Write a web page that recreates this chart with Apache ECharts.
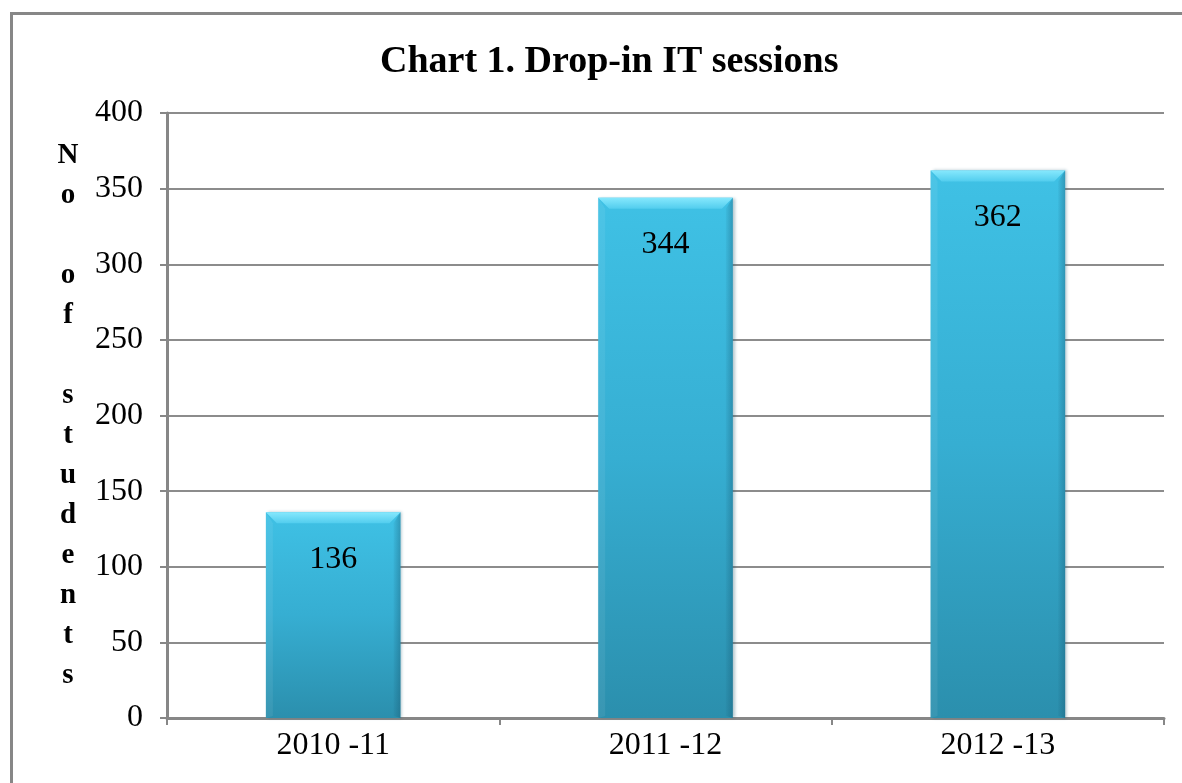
<!DOCTYPE html>
<html><head><meta charset="utf-8">
<script src="https://cdn.jsdelivr.net/npm/echarts@6/dist/echarts.min.js"></script>
<style>html,body{margin:0;padding:0;background:#fff}#c{width:1182px;height:783px}</style>
</head><body><div id="c"></div>
<script>
const categories = ['2010 -11', '2011 -12', '2012 -13'];
const values = [136, 344, 362];
const yTicks = [0, 50, 100, 150, 200, 250, 300, 350, 400];
const yName = ['N','o','','o','f','','s','t','u','d','e','n','t','s'];
const chart = echarts.init(document.getElementById('c'));
const serif = '"Liberation Serif", "Times New Roman", serif';
const BAR_RATIO = 0.405;

function renderBevel(params, api) {
  const idx = api.value(0);
  const val = api.value(1);
  const top = api.coord([idx, val]);
  const base = api.coord([idx, 0]);
  const bw = api.size([1, 0])[0] * BAR_RATIO;
  const x0 = top[0] - bw / 2, x1 = top[0] + bw / 2;
  const y0 = top[1], yb = base[1];
  const b = 11, s = 7;
  return {
    type: 'group',
    children: [
      { type: 'polygon', shape: { points: [[x0, y0], [x1, y0], [x1 - b, y0 + b], [x0 + b, y0 + b]] },
        style: { fill: new echarts.graphic.LinearGradient(0, 0, 0, 1, [
          { offset: 0, color: '#86e8fd' }, { offset: 1, color: '#52cdee' }]) } },
      { type: 'polygon', shape: { points: [[x1, y0], [x1, yb], [x1 - s, yb - 2], [x1 - s, y0 + b]] },
        style: { fill: new echarts.graphic.LinearGradient(0, 0, 1, 0, [
          { offset: 0, color: 'rgba(20,80,105,0.05)' }, { offset: 1, color: 'rgba(20,80,105,0.35)' }]) } },
      { type: 'polygon', shape: { points: [[x0, y0], [x0 + s, y0 + b], [x0 + s, yb - 2], [x0, yb]] },
        style: { fill: 'rgba(255,255,255,0.07)' } },
      { type: 'text', x: top[0], y: y0 + 47,
        style: { text: String(val), fontFamily: serif, fontSize: 32, fill: '#000', align: 'center', verticalAlign: 'middle' } }
    ]
  };
}

chart.setOption({
  animation: false,
  backgroundColor: '#fff',
  title: {
    text: 'Chart 1. Drop-in IT sessions', left: 375, top: 38,
    textStyle: { fontFamily: serif, fontWeight: 'bold', fontSize: 38, color: '#000' }
  },
  graphic: [{
    type: 'rect', shape: { x: 11.5, y: 13.5, width: 1200, height: 800 },
    style: { fill: 'none', stroke: '#878787', lineWidth: 3 }, z: 100
  }],
  grid: { left: 167, right: 18, top: 113, bottom: 65 },
  xAxis: {
    type: 'category', data: categories,
    axisLine: { lineStyle: { color: '#878787', width: 3 } },
    axisTick: { show: true, alignWithLabel: false, length: 7, lineStyle: { color: '#878787', width: 2 } },
    axisLabel: { fontFamily: serif, fontSize: 32, color: '#000', margin: 12 }
  },
  yAxis: {
    type: 'value', min: yTicks[0], max: yTicks[yTicks.length - 1], interval: 50,
    name: yName.join('\n'), nameLocation: 'middle', nameGap: 99, nameRotate: 0,
    nameTextStyle: { fontFamily: serif, fontWeight: 'bold', fontSize: 29, color: '#000', lineHeight: 40, align: 'center', padding: [34, 0, 0, 0] },
    axisLine: { show: true, lineStyle: { color: '#878787', width: 3 } },
    axisTick: { show: true, length: 7, lineStyle: { color: '#878787', width: 2 } },
    axisLabel: { fontFamily: serif, fontSize: 32, color: '#000', margin: 24 },
    splitLine: { lineStyle: { color: '#8c8c8c', width: 2 } }
  },
  series: [{
    type: 'bar', data: values, barWidth: (BAR_RATIO * 100) + '%', z: 2,
    itemStyle: {
      color: new echarts.graphic.LinearGradient(0, 0, 0, 1, [
        { offset: 0, color: '#3fc1e5' },
        { offset: 0.5, color: '#36aed2' },
        { offset: 1, color: '#2b8fad' }
      ]),
      shadowColor: 'rgba(30,90,110,0.35)', shadowBlur: 3, shadowOffsetX: 2
    }
  }, {
    type: 'custom', z: 3,
    data: values.map((v, i) => [i, v]),
    encode: { x: 0, y: 1 },
    renderItem: renderBevel
  }]
});
</script></body></html>
